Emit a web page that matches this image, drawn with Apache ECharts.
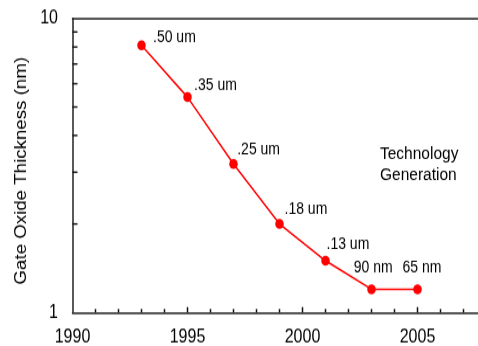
<!DOCTYPE html>
<html>
<head>
<meta charset="utf-8">
<script src="https://cdn.jsdelivr.net/npm/echarts@6/dist/echarts.min.js"></script>
<style>
  html, body { margin: 0; padding: 0; background: #fff; }
  #wrap { width: 478px; height: 346px; overflow: hidden; position: relative; }
  #chart { width: 478px; height: 296px; transform: scaleY(1.16892); transform-origin: 0 0; }
</style>
</head>
<body>
<div id="wrap"><div id="chart"></div></div>
<script>
// ---- data ----
const YEARS = [1993, 1995, 1997, 1999, 2001, 2003, 2005];
const THICKNESS = [8.1, 5.4, 3.2, 2.0, 1.5, 1.2, 1.2];
const NODE_LABELS = ['.50 um', '.35 um', '.25 um', '.18 um', '.13 um', '90 nm', '65 nm'];
const X_TICKS = [1990, 1995, 2000, 2005];
const X_MAJOR_MARKS = [1995, 2000, 2005];
const X_MINOR_MARKS = [1991, 1992, 1993, 1994, 1996, 1997, 1998, 1999, 2001, 2002, 2003, 2004, 2006, 2007];
const Y_TICKS = [1, 10];
const Y_MINOR_MARKS = [2, 3, 4, 5, 6, 7, 8, 9];
const Y_TITLE = 'Gate Oxide Thickness (nm)';
const NOTE_LINES = ['Technology', 'Generation'];

// ---- layout (label offsets, not data) ----
const LABEL_OFFSETS = [[11.5, -7.1], [6.6, -10], [3.7, -12.2], [5, -12], [1, -14.3], [-17.7, -18.6], [-15, -18.6]];

const FONT = 'Liberation Sans, Arial, Helvetica, sans-serif';
const AXIS_COLOR = '#222';
const TICK_COLOR = '#111';

const chart = echarts.init(document.getElementById('chart'), null, { renderer: 'canvas' });

const seriesData = YEARS.map((y, i) => ({
  value: [y, THICKNESS[i]],
  label: { offset: LABEL_OFFSETS[i] }
}));

// tick marks: [x, y, kind]  kind 0 = x major, 1 = x minor, 2 = y minor
const tickData = []
  .concat(X_MAJOR_MARKS.map(x => [x, Y_TICKS[0], 0]))
  .concat(X_MINOR_MARKS.map(x => [x, Y_TICKS[0], 1]))
  .concat(Y_MINOR_MARKS.map(y => [X_TICKS[0], y, 2]));

chart.setOption({
  animation: false,
  backgroundColor: '#fff',
  grid: {
    left: 72.5, top: 15.8, width: 460, bottom: 28.7,
    outerBoundsMode: 'none'
  },
  xAxis: [{
    type: 'value',
    position: 'bottom',
    min: X_TICKS[0],
    max: 2010,
    interval: 5,
    axisLine: { show: true, lineStyle: { color: AXIS_COLOR, width: 1.5 } },
    axisTick: { show: false },
    minorTick: { show: false },
    splitLine: { show: false },
    minorSplitLine: { show: false },
    axisLabel: {
      margin: 13.5, fontSize: 16, color: '#000', fontFamily: FONT,
      formatter: v => (X_TICKS.indexOf(v) >= 0 ? String(v) : '')
    }
  }, {
    type: 'value',
    position: 'top',
    min: X_TICKS[0],
    max: 2010,
    interval: 5,
    axisLine: { show: true, lineStyle: { color: AXIS_COLOR, width: 1.5 } },
    axisTick: { show: false },
    axisLabel: { show: false },
    splitLine: { show: false }
  }],
  yAxis: [{
    type: 'log',
    logBase: 10,
    min: Y_TICKS[0],
    max: Y_TICKS[1],
    position: 'left',
    name: Y_TITLE,
    nameLocation: 'middle',
    nameGap: 40,
    nameTextStyle: { fontSize: 16, color: '#000', fontFamily: FONT, padding: [0, 9, 0, 0] },
    axisLine: { show: true, lineStyle: { color: AXIS_COLOR, width: 1.5 } },
    axisTick: { show: false },
    minorTick: { show: false },
    splitLine: { show: false },
    minorSplitLine: { show: false },
    axisLabel: {
      margin: 14.5, fontSize: 16, color: '#000', fontFamily: FONT,
      formatter: v => (Y_TICKS.indexOf(v) >= 0 ? String(v) : '')
    }
  }],
  graphic: [{
    type: 'text',
    left: 380, top: 122.9,
    style: {
      text: NOTE_LINES.join('\n'),
      x: 0, y: 0,
      align: 'center', verticalAlign: 'middle',
      fontSize: 15.5, lineHeight: 17.7, fontFamily: FONT, fill: '#000'
    }
  }],
  series: [{
    type: 'line',
    xAxisIndex: 0,
    yAxisIndex: 0,
    data: seriesData,
    symbol: 'circle',
    symbolSize: 8.5,
    lineStyle: { color: '#f00', width: 1.5 },
    itemStyle: { color: '#f00' },
    label: {
      show: true,
      position: 'inside',
      align: 'left',
      verticalAlign: 'middle',
      fontSize: 14,
      fontFamily: FONT,
      color: '#000',
      textBorderWidth: 0,
      formatter: p => NODE_LABELS[p.dataIndex]
    }
  }, {
    type: 'custom',
    xAxisIndex: 0,
    yAxisIndex: 0,
    silent: true,
    clip: false,
    z: 10,
    dimensions: ['x', 'y', 'kind'],
    encode: { x: 0, y: 1 },
    data: tickData,
    renderItem: (params, api) => {
      const kind = tickData[params.dataIndex][2];
      const p = api.coord([api.value(0), api.value(1)]);
      let shape;
      if (kind === 2) {
        shape = { x: p[0], y: p[1] - 0.7, width: 5, height: 1.4 };
      } else {
        const len = kind === 0 ? 4.6 : 3;
        shape = { x: p[0] - 0.75, y: p[1] - len, width: 1.5, height: len };
      }
      return { type: 'rect', shape: shape, style: { fill: TICK_COLOR } };
    }
  }]
});
</script>
</body>
</html>
